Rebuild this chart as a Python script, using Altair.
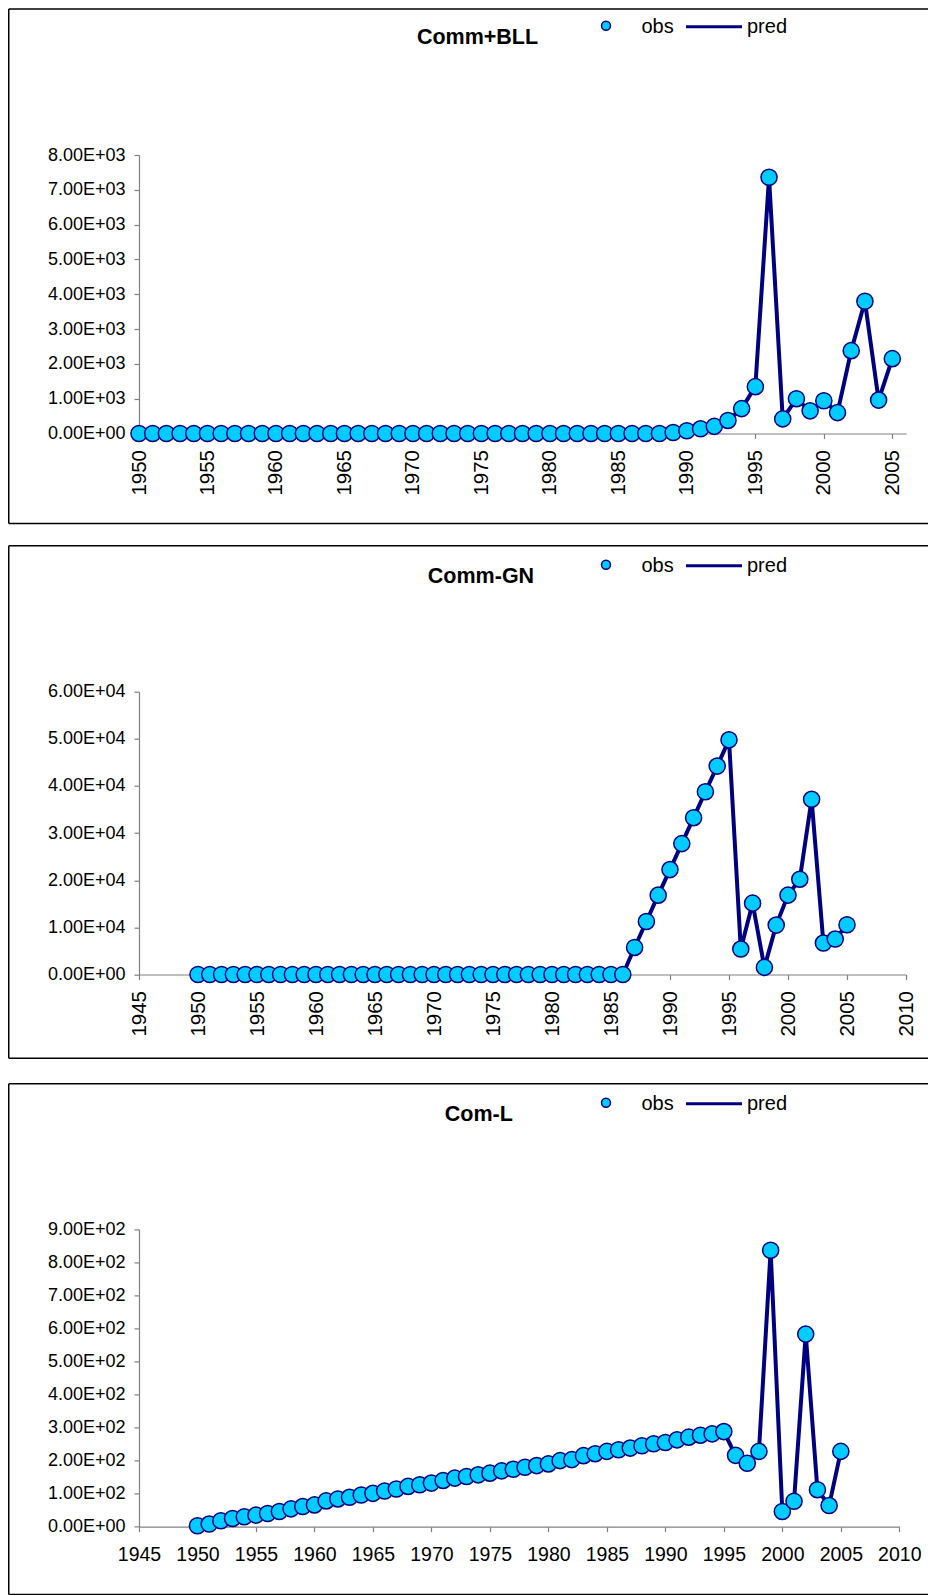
import altair as alt
import pandas as pd

FONT = "Liberation Sans"
NAVY = "#000080"
CYAN = "#00CCFF"

years = list(range(1950, 2006))

comm_bll = [0, 0, 0, 0, 0, 0, 0, 0, 0, 0,
            0, 0, 0, 0, 0, 0, 0, 0, 0, 0,
            0, 0, 0, 0, 0, 0, 0, 0, 0, 0,
            0, 0, 0, 0, 0, 0, 0, 0, 0,
            30, 80, 135, 205, 375, 715, 1345, 7360, 420, 1000,
            650, 940, 600, 2380, 3800, 960, 2150]

comm_gn = [0, 0, 0, 0, 0, 0, 0, 0, 0, 0,
           0, 0, 0, 0, 0, 0, 0, 0, 0, 0,
           0, 0, 0, 0, 0, 0, 0, 0, 0, 0,
           0, 0, 0, 0, 0, 0, 0,
           5740, 11250, 16830, 22260, 27770, 33270, 38780, 44220, 49790,
           5400, 15140, 1510, 10480, 16840, 20220, 37170, 6670, 7520, 10550]

com_l = [3, 8, 18, 25, 30, 35, 40, 46, 54, 61,
         66, 78, 84, 89, 96, 101, 108, 114, 122, 127,
         132, 140, 147, 152, 157, 162, 169, 174, 180, 185,
         190, 200, 203, 215, 221, 228, 233, 238, 245, 251,
         255, 263, 271, 277, 281,
         288, 216, 192, 228, 837, 46, 77, 583, 112, 64, 228]

bll_yticks = [0, 1000, 2000, 3000, 4000, 5000, 6000, 7000, 8000]
bll_ylabels = ["0.00E+00", "1.00E+03", "2.00E+03", "3.00E+03", "4.00E+03",
               "5.00E+03", "6.00E+03", "7.00E+03", "8.00E+03"]
gn_yticks = [0, 10000, 20000, 30000, 40000, 50000, 60000]
gn_ylabels = ["0.00E+00", "1.00E+04", "2.00E+04", "3.00E+04", "4.00E+04",
              "5.00E+04", "6.00E+04"]
coml_yticks = [0, 100, 200, 300, 400, 500, 600, 700, 800, 900]
coml_ylabels = ["0.00E+00", "1.00E+02", "2.00E+02", "3.00E+02", "4.00E+02",
                "5.00E+02", "6.00E+02", "7.00E+02", "8.00E+02", "9.00E+02"]

bll_xticks = [1950, 1955, 1960, 1965, 1970, 1975, 1980, 1985, 1990, 1995, 2000, 2005]
wide_xticks = [1945, 1950, 1955, 1960, 1965, 1970, 1975, 1980, 1985, 1990,
               1995, 2000, 2005, 2010]

legend_labels = ["obs", "pred"]

ORIGIN_X = 139.0       # page x of every plot's left edge
BORDER_X = 8.75        # page x of the border's left line
RIGHT_X = 928.0        # page x where the top/bottom border lines stop


def panel(values, title, title_x, xdom, xticks, width, height,
          yticks, ylabels, ystep, rotate, bt_ref, pt_ref, bb_ref, extra_gap=0.0):
    df = pd.DataFrame({"year": years, "value": values})
    label_expr = "[" + ",".join("'%s'" % s for s in ylabels) + "][round(datum.value/%g)]" % ystep
    xaxis = alt.Axis(values=xticks, format="d", title=None,
                     labelAngle=270 if rotate else 0,
                     labelFontSize=20.5 if rotate else 19.5,
                     labelPadding=11 if rotate else 14,
                     labelFlush=False, labelOverlap=False)
    yaxis = alt.Axis(values=yticks, labelExpr=label_expr, title=None,
                     labelFontSize=18, labelPadding=9)
    X = alt.X("year:Q", scale=alt.Scale(domain=xdom, nice=False, zero=False), axis=xaxis)
    Y = alt.Y("value:Q", scale=alt.Scale(domain=[yticks[0], yticks[-1]], nice=False), axis=yaxis)
    base = alt.Chart(df)
    line = base.mark_line(color=NAVY, strokeWidth=4).encode(x=X, y=Y)
    pts = base.mark_circle(size=260, color=CYAN, opacity=1, stroke=NAVY,
                           strokeWidth=1.5).encode(x=X, y=Y)

    deco = pd.DataFrame({"k": [0]})
    top_rel = (max(bt_ref, 8.75)) - pt_ref
    bot_rel = bb_ref - pt_ref
    lx = BORDER_X - ORIGIN_X
    rx = RIGHT_X - ORIGIN_X
    b_top = alt.Chart(deco).mark_rule(color="#000000", strokeWidth=1.5).encode(
        x=alt.value(lx), x2=alt.value(rx), y=alt.value(top_rel))
    b_bot = alt.Chart(deco).mark_rule(color="#000000", strokeWidth=1.5).encode(
        x=alt.value(lx), x2=alt.value(rx), y=alt.value(bot_rel))
    b_left = alt.Chart(deco).mark_rule(color="#000000", strokeWidth=1.5).encode(
        x=alt.value(lx), y=alt.value(top_rel), y2=alt.value(bot_rel))
    layers = [b_top, b_bot, b_left]
    if extra_gap > 0:
        gap = alt.Chart(deco).mark_rect(opacity=0).encode(
            x=alt.value(lx), x2=alt.value(lx + 10), y=alt.value(top_rel - extra_gap),
            y2=alt.value(top_rel))
        layers.append(gap)

    t = alt.Chart(deco).mark_text(text=title, font=FONT, fontSize=21.5, fontWeight="bold",
                                  align="center", baseline="alphabetic", color="black").encode(
        x=alt.value(title_x - ORIGIN_X), y=alt.value(bt_ref + 37.5 - pt_ref))
    lg_c = alt.Chart(deco).mark_circle(size=80, color=CYAN, opacity=1, stroke=NAVY,
                                       strokeWidth=1.5).encode(
        x=alt.value(606 - ORIGIN_X), y=alt.value(bt_ref + 19 - pt_ref))
    lg_t1 = alt.Chart(deco).mark_text(text=legend_labels[0], font=FONT, fontSize=20, align="left",
                                      baseline="alphabetic", color="black").encode(
        x=alt.value(641.5 - ORIGIN_X), y=alt.value(bt_ref + 26 - pt_ref))
    lg_l = alt.Chart(deco).mark_rule(color=NAVY, strokeWidth=3).encode(
        x=alt.value(686 - ORIGIN_X), x2=alt.value(742 - ORIGIN_X), y=alt.value(bt_ref + 20 - pt_ref))
    lg_t2 = alt.Chart(deco).mark_text(text=legend_labels[1], font=FONT, fontSize=20, align="left",
                                      baseline="alphabetic", color="black").encode(
        x=alt.value(747 - ORIGIN_X), y=alt.value(bt_ref + 26 - pt_ref))
    layers += [line, pts, t, lg_c, lg_t1, lg_l, lg_t2]
    return alt.layer(*layers).properties(width=width, height=height)


p1 = panel(comm_bll, "Comm+BLL", 477.5, [1950, 2006], bll_xticks, 767, 278.5,
           bll_yticks, bll_ylabels, 1000, True, 6.5, 154.8, 523.3)
p2 = panel(comm_gn, "Comm-GN", 481, [1945, 2010], wide_xticks, 767, 282.8,
           gn_yticks, gn_ylabels, 10000, True, 544.5, 690.5, 1057)
p3 = panel(com_l, "Com-L", 478.8, [1945, 2010], wide_xticks, 760.3, 297.3,
           coml_yticks, coml_ylabels, 100, False, 1082.4, 1228, 1593, extra_gap=4.2)

chart = alt.vconcat(p1, p2, p3, spacing=19.7, padding=0).configure_view(
    strokeWidth=0
).configure_axis(
    grid=False,
    domainColor="#808080",
    domainWidth=1.2,
    tickColor="#808080",
    tickWidth=1.2,
    tickSize=5,
    labelFont=FONT,
    labelColor="#000000",
)

chart.save("out.html", embed_options={"renderer": "svg", "actions": False})
